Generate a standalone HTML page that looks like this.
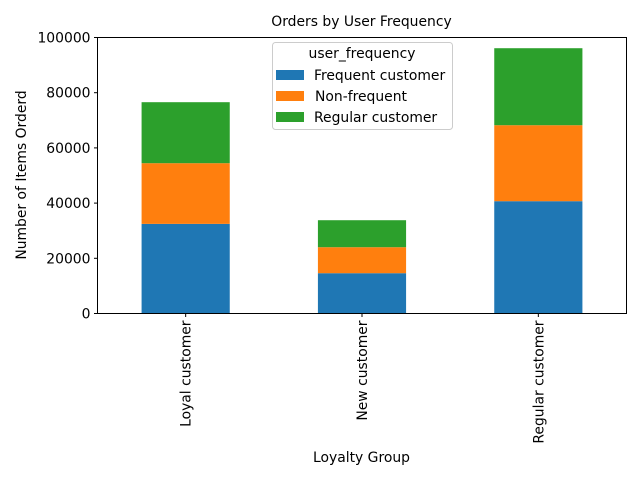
<!DOCTYPE html>
<html><head><meta charset="utf-8"><style>
html,body{margin:0;padding:0;background:#fff;}
svg{display:block;font-family:"DejaVu Sans","Liberation Sans",sans-serif;}
</style></head><body>
<svg id="chart" width="640" height="480" viewBox="0 0 640 480">
<text x="361.5" y="26" font-size="13.9" text-anchor="middle">Orders by User Frequency</text>
<g id="bars"></g>
<g id="yaxis"></g>
<g id="xaxis"></g>
<rect x="97.5" y="37.5" width="529" height="276" fill="none" stroke="#000" stroke-width="1"/>
<text transform="translate(26,175) rotate(-90)" font-size="13.9" text-anchor="middle">Number of Items Orderd</text>
<text x="361.5" y="462" font-size="13.9" text-anchor="middle">Loyalty Group</text>
<g>
<rect x="272.5" y="42.5" width="180" height="87" rx="3" fill="#fff" fill-opacity="0.8" stroke="#ccc"/>
<text x="362" y="58" font-size="13.9" text-anchor="middle">user_frequency</text>
<rect x="276" y="70" width="28" height="10" fill="#1f77b4"/>
<text x="314" y="80" font-size="13.9">Frequent customer</text>
<rect x="276" y="91" width="28" height="10" fill="#ff7f0e"/>
<text x="315" y="101" font-size="13.9">Non-frequent</text>
<rect x="276" y="112" width="28" height="10" fill="#2ca02c"/>
<text x="314" y="122" font-size="13.9">Regular customer</text>
</g>
</svg>
<script>
const categories = ["Loyal customer", "New customer", "Regular customer"];
const frequentValues = [32470, 14600, 40690];
const nonFrequentValues = [21990, 9420, 27530];
const regularValues = [22100, 9780, 27900];
const yTicks = [0, 20000, 40000, 60000, 80000, 100000];
const seriesColors = ["#1f77b4", "#ff7f0e", "#2ca02c"];
const seriesNames = ["frequent", "non-frequent", "regular"];

const NS = "http://www.w3.org/2000/svg";
const plotL = 97.5, plotR = 626.5, plotT = 37.5, plotB = 313.5;
function yScale(v){ return plotB - (v/100000)*(plotB-plotT); }
function xCenter(i){ return plotL + (plotR-plotL)*(i+0.5)/categories.length; }
const barW = (plotR-plotL)/categories.length*0.5;

const bars = document.getElementById('bars');
const series = [frequentValues, nonFrequentValues, regularValues];
categories.forEach((c,i)=>{
  let base = 0;
  series.forEach((s,k)=>{
    const r = document.createElementNS(NS,'rect');
    const y0 = yScale(base), y1 = yScale(base+s[i]);
    r.setAttribute('x', xCenter(i)-barW/2);
    r.setAttribute('y', y1);
    r.setAttribute('width', barW);
    r.setAttribute('height', y0-y1);
    r.setAttribute('fill', seriesColors[k]);
    
    
    bars.appendChild(r);
    base += s[i];
  });
});

const ya = document.getElementById('yaxis');
yTicks.forEach(t=>{
  const y = yScale(t);
  const l = document.createElementNS(NS,'line');
  l.setAttribute('x1', plotL-3.5); l.setAttribute('x2', plotL);
  l.setAttribute('y1', y); l.setAttribute('y2', y);
  l.setAttribute('stroke', '#000');
  
  
  ya.appendChild(l);
  const tx = document.createElementNS(NS,'text');
  tx.setAttribute('x', plotL-7); tx.setAttribute('y', y+5);
  tx.setAttribute('font-size', '13.9'); tx.setAttribute('text-anchor', 'end');
  tx.textContent = t;
  
  
  ya.appendChild(tx);
});

const xa = document.getElementById('xaxis');
categories.forEach((c,i)=>{
  const x = xCenter(i);
  const l = document.createElementNS(NS,'line');
  l.setAttribute('x1', x); l.setAttribute('x2', x);
  l.setAttribute('y1', plotB); l.setAttribute('y2', plotB+3.5);
  l.setAttribute('stroke', '#000');
  
  
  xa.appendChild(l);
  const tx = document.createElementNS(NS,'text');
  tx.setAttribute('transform', 'translate(' + (x+5) + ',' + (plotB+7) + ') rotate(-90)');
  tx.setAttribute('font-size', '13.9'); tx.setAttribute('text-anchor', 'end');
  tx.textContent = c;
  
  
  xa.appendChild(tx);
});
</script>
</body></html>
